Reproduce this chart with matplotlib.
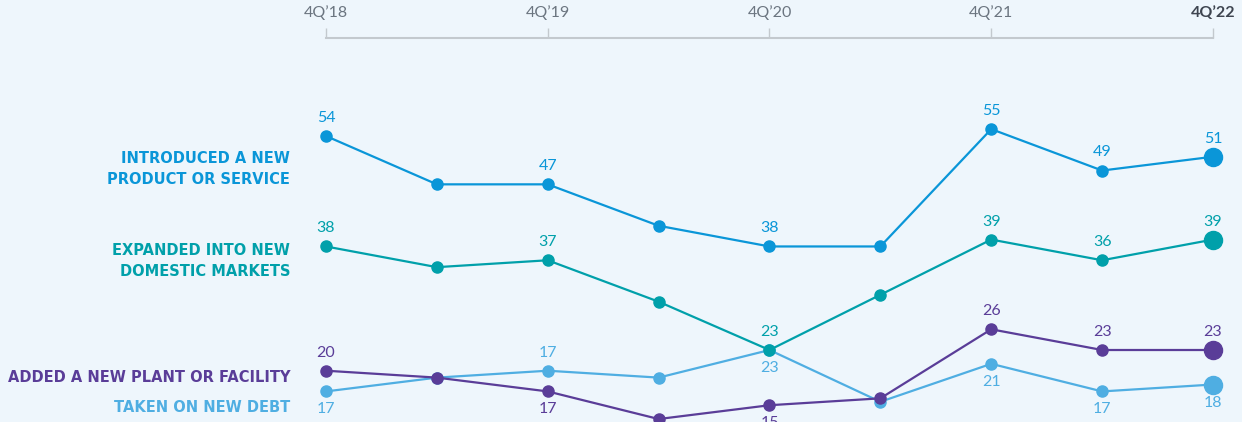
import matplotlib.pyplot as plt
import numpy as np

# survey periods (semiannual), only 4Q ones get a tick label
periods = ["4Q'18", "2Q'19", "4Q'19", "2Q'20", "4Q'20", "2Q'21", "4Q'21", "2Q'22", "4Q'22"]
tick_labels = ["4Q\u201918", "4Q\u201919", "4Q\u201920", "4Q\u201921", "4Q\u201922"]

product = [54, 47, 47, 41, 38, 38, 55, 49, 51]
domestic = [38, 35, 36, 30, 23, 31, 39, 36, 39]
plant = [20, 19, 17, 13, 15, 16, 26, 23, 23]
debt = [17, 19, 20, 19, 23, 15.5, 21, 17, 18]

# printed values (None = no label), +1 above / -1 below
product_lbl = ["54", None, "47", None, "38", None, "55", "49", "51"]
domestic_lbl = ["38", None, "37", None, "23", None, "39", "36", "39"]
plant_lbl = ["20", None, "17", None, "15", None, "26", "23", "23"]
debt_lbl = ["17", None, "17", None, "23", None, "21", "17", "18"]
plant_side = [1, 0, -1, 0, -1, 0, 1, 1, 1]
debt_side = [-1, 0, 1, 0, -1, 0, -1, -1, -1]

names = ["INTRODUCED A NEW\nPRODUCT OR SERVICE", "EXPANDED INTO NEW\nDOMESTIC MARKETS",
         "ADDED A NEW PLANT OR FACILITY", "TAKEN ON NEW DEBT"]

c_prod = '#0A96D8'
c_dom = '#00A0AA'
c_plant = '#5A3D98'
c_debt = '#4FAEE2'
bg = '#EEF6FC'

W, H = 1242, 422
fig = plt.figure(figsize=(W/100, H/100), dpi=100)
fig.patch.set_facecolor(bg)

ax = fig.add_axes([326/W, 0, (1213-326)/W, (H-38)/H])
ax.set_facecolor(bg)
x = np.arange(len(periods))

series = [(debt, debt_lbl, debt_side, c_debt),
          (plant, plant_lbl, plant_side, c_plant),
          (domestic, domestic_lbl, [1]*9, c_dom),
          (product, product_lbl, [1]*9, c_prod)]

for vals, lbls, side, col in series:
    ax.plot(x, vals, color=col, lw=1.6, marker='o', ms=8, clip_on=False, zorder=3)
    ax.plot(x[-1], vals[-1], 'o', color=col, ms=13, clip_on=False, zorder=4)
    for i, (v, t) in enumerate(zip(vals, lbls)):
        if t is None:
            continue
        off = 13 if side[i] >= 0 else -13
        ax.annotate(t, (x[i], v), xytext=(0, off), textcoords='offset points',
                    ha='center', va='center', color=col, fontsize=11.5,
                    family='Lato', annotation_clip=False)

ax.set_xlim(0, 8)
ax.set_ylim(12.57, 68.2)
ax.xaxis.tick_top()
ax.set_xticks(x[::2])
ax.set_xticklabels(tick_labels, family='Lato', fontsize=11.5, color='#6B7580')
ax.get_xticklabels()[-1].set_fontweight('bold')
ax.get_xticklabels()[-1].set_color('#3E4550')
ax.tick_params(axis='x', direction='out', length=7, width=1, color='#C3C9CE', pad=6)
ax.set_yticks([])
for s in ['left', 'right', 'bottom']:
    ax.spines[s].set_visible(False)
ax.spines['top'].set_color('#C3C9CE')
ax.spines['top'].set_linewidth(1.5)

# series names on the left
for name, col, ypx in zip(names, [c_prod, c_dom, c_plant, c_debt], [169, 261, 377, 407]):
    fig.text(290/W, 1 - ypx/H, name, ha='right', va='center', color=col,
             fontsize=10.5, family='DejaVu Sans', fontweight='bold', linespacing=1.5)

fig.savefig('out.png', dpi=100, facecolor=bg)
